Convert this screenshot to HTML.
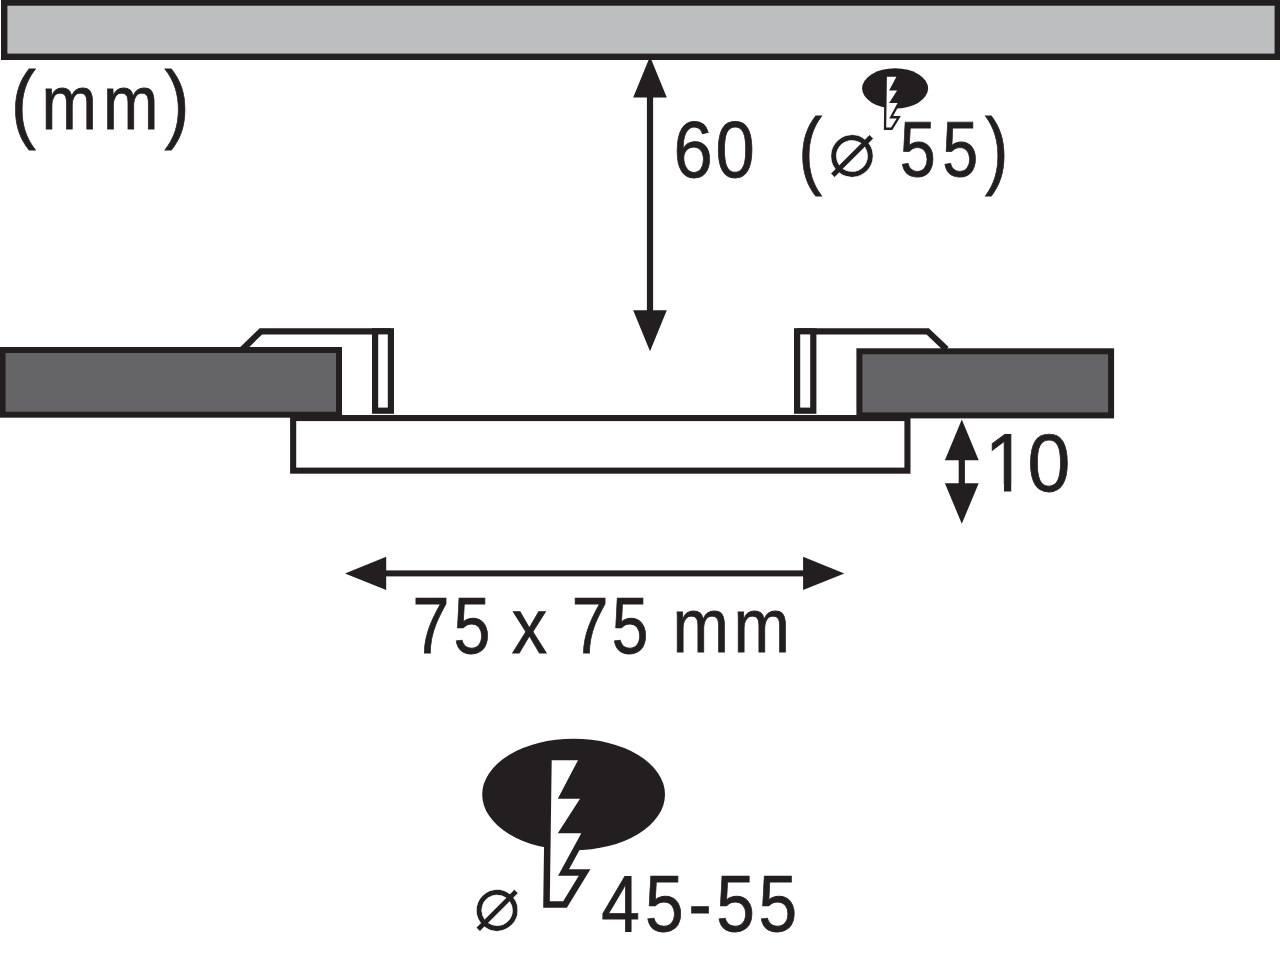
<!DOCTYPE html>
<html lang="en"><head><meta charset="utf-8"><title>75 x 75 mm</title>
<style>
html,body{margin:0;padding:0;background:#fff;}
body{width:1280px;height:969px;overflow:hidden;}
svg{display:block;}
text{font-family:"Liberation Sans",sans-serif;fill:#231f20;}
.d{font-family:"Liberation Sans","DejaVu Sans",sans-serif;}
.t{stroke:#231f20;stroke-width:.8px;stroke-linejoin:miter;}
</style></head><body>
<svg width="1280" height="969" viewBox="0 0 1280 969">
<rect width="1280" height="969" fill="#fff"/>
<defs><clipPath id="one"><path d="M980 425 H1080 V500 H1027 V484 H1011.2 V500 H1004 V484 H980 Z"/></clipPath></defs>
<path d="M650 56.5 L633.2 97.5 L666.8 97.5 Z M650 351.3 L633.2 310.3 L666.8 310.3 Z" fill="#231f20"/><rect x="646.9" y="96.5" width="6.2" height="214.8" fill="#231f20"/>
<rect x="4.2" y="2.5" width="1273.6" height="54.3" fill="#bcbec0" stroke="#231f20" stroke-width="6.4"/>
<rect x="293.15" y="418.05" width="614.3" height="52.6" fill="#fff" stroke="#231f20" stroke-width="6.1"/>
<path d="M242.5 349.2 L260.9 331.3 H391" fill="none" stroke="#231f20" stroke-width="6.2"/>
<rect x="375.1" y="331.3" width="15.8" height="79.4" fill="#fff" stroke="#231f20" stroke-width="6.2"/>
<path d="M946.5 349.2 L927.6 331.3 H797" fill="none" stroke="#231f20" stroke-width="6.2"/>
<rect x="797.1" y="331.3" width="16.2" height="79.4" fill="#fff" stroke="#231f20" stroke-width="6.2"/>
<rect x="2.6" y="350" width="336.4" height="64.7" fill="#656567" stroke="#231f20" stroke-width="6"/>
<rect x="859.4" y="351.3" width="251.7" height="64.1" fill="#656567" stroke="#231f20" stroke-width="6"/>
<path d="M961.8 419.6 L944.9 460.2 L978.7 460.2 Z M961.8 523.8 L944.9 483.2 L978.7 483.2 Z" fill="#231f20"/><rect x="958.7" y="459.2" width="6.2" height="25" fill="#231f20"/>
<path d="M345 573.4 L386.2 556.8 L386.2 590 Z M844.3 573.4 L803.1 556.8 L803.1 590 Z" fill="#231f20"/><rect x="385.2" y="570.4" width="418.9" height="6" fill="#231f20"/>
<g transform="translate(573.6,794.5) scale(1)"><ellipse cx="0" cy="0" rx="91.4" ry="55.8" fill="#231f20"/><path transform="translate(0,0)" d="M-21.9 -34.3 L4.4 -34.3 L-15.8 4.2 L6.4 4.2 L-15.8 38.8 L7.7 38.8 L-15.5 81.2 L5.2 81.2 L-10.4 106.7 L-23.8 106.7Z" fill="#fff" stroke="#231f20" stroke-width="13" stroke-linejoin="miter" stroke-miterlimit="10" paint-order="stroke"/></g>
<g transform="translate(895.1,88.4) scale(0.361)"><ellipse cx="0" cy="0" rx="91.4" ry="55.8" fill="#231f20"/><path transform="translate(-0.83,1.94)" d="M-21.9 -34.3 L4.4 -34.3 L-15.8 4.2 L6.4 4.2 L-15.8 38.8 L7.7 38.8 L-15.5 81.2 L5.2 81.2 L-10.4 106.7 L-23.8 106.7Z" fill="#fff" stroke="#231f20" stroke-width="13" stroke-linejoin="miter" stroke-miterlimit="10" paint-order="stroke"/></g>
<text x="827.75" y="175.72" font-size="80.55" class="d" stroke="#fff" stroke-width="0.5">⌀</text>
<text x="473.16" y="929.89" font-size="79.21" class="d" stroke="#fff" stroke-width="0.5">⌀</text>
<text class="t" transform="scale(0.8742,1)"><tspan x="12.3" y="131.91" font-size="86.41">(</tspan><tspan x="47.52 117.87" y="129.2" font-size="76.2">mm</tspan><tspan x="188.17" y="131.91" font-size="86.41">)</tspan></text>
<text class="t" transform="scale(0.8859,1)"><tspan x="760.15 807.77" y="176.52" font-size="79.66">60</tspan></text>
<text class="t" transform="scale(0.8356,1)"><tspan x="955.22" y="177.84" font-size="85.76">(</tspan></text>
<text class="t" transform="scale(0.8218,1)"><tspan x="1094.83 1146.49" y="176.23" font-size="78.68">55</tspan><tspan x="1198.58" y="177.74" font-size="85.76">)</tspan></text>
<g clip-path="url(#one)"><text class="t" transform="scale(0.9503,1)"><tspan x="1036.21 1081.12" y="491.01" font-size="81.07">10</tspan></text></g>
<text class="t" transform="scale(0.8374,1)"><tspan x="492.73 541.42" y="653.35" font-size="79.14">75</tspan></text>
<text class="t" transform="scale(0.9114,1)"><tspan x="561.64" y="653.35" font-size="77.7">x</tspan></text>
<text class="t" transform="scale(0.8349,1)"><tspan x="684.96 732.86" y="653.2" font-size="78.93">75</tspan></text>
<text class="t" transform="scale(0.8925,1)"><tspan x="753.58 821.96" y="652.5" font-size="75.92">mm</tspan></text>
<text class="t" transform="scale(0.8660,1)"><tspan x="694.31 744.89 795.04 827.11 875.95" y="931.4" font-size="80.23">45-55</tspan></text>
</svg>
</body></html>
